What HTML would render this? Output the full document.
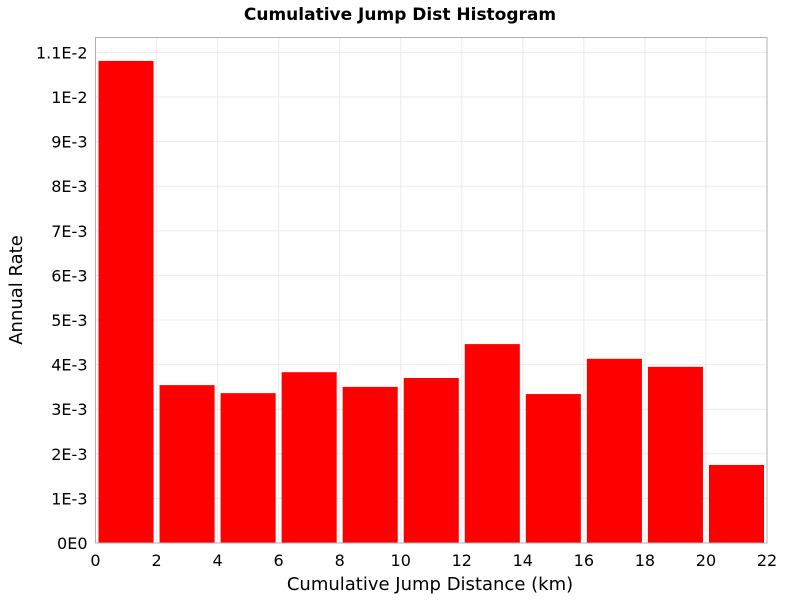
<!DOCTYPE html>
<html><head><meta charset="utf-8"><style>
body{margin:0;background:#fff;font-family:"DejaVu Sans","Liberation Sans",sans-serif;}
</style></head><body>
<svg id="chart" width="800" height="600" xmlns="http://www.w3.org/2000/svg">
<text x="400" y="20" text-anchor="middle" font-size="17" font-weight="bold" font-family="DejaVu Sans, sans-serif">Cumulative Jump Dist Histogram</text>
<g id="grid"></g><g id="bars"></g><g id="axes"></g>
<text x="430" y="590" text-anchor="middle" font-size="18" font-family="DejaVu Sans, sans-serif">Cumulative Jump Distance (km)</text>
<text transform="translate(22,290) rotate(-90)" text-anchor="middle" font-size="18" font-family="DejaVu Sans, sans-serif">Annual Rate</text>
</svg>
<script>
const binStarts=[0,2,4,6,8,10,12,14,16,18,20];
const rates=[0.01081,0.00354,0.00336,0.00383,0.00350,0.00370,0.00446,0.00334,0.00413,0.00395,0.00175];
const xTicks=[0,2,4,6,8,10,12,14,16,18,20,22];
const yTicks=[0,0.001,0.002,0.003,0.004,0.005,0.006,0.007,0.008,0.009,0.01,0.011];
const yTickLabels=["0E0","1E-3","2E-3","3E-3","4E-3","5E-3","6E-3","7E-3","8E-3","9E-3","1E-2","1.1E-2"];
const binWidth=2;
const L=95.5,R=767,T=37.5,B=543,xMax=22,yMax=0.011335;
const sx=v=>L+(v/xMax)*(R-L), sy=v=>B-(v/yMax)*(B-T);
const NS="http://www.w3.org/2000/svg";
function mk(t,a,p){const e=document.createElementNS(NS,t);for(const k in a)e.setAttribute(k,a[k]);p.appendChild(e);return e;}
const grid=document.getElementById('grid'),bars=document.getElementById('bars'),axes=document.getElementById('axes');
xTicks.forEach(v=>{
 const g=mk('line',{x1:sx(v),x2:sx(v),y1:T,y2:B,stroke:'#ebebeb'},grid);
 
 
 const t=mk('text',{x:sx(v),y:B+23,'text-anchor':'middle','font-size':16},axes);t.textContent=v;
 
 
});
yTicks.forEach((v,i)=>{
 const g=mk('line',{x1:L,x2:R,y1:sy(v),y2:sy(v),stroke:'#ebebeb'},grid);
 
 
 const t=mk('text',{x:L-8,y:sy(v)+6,'text-anchor':'end','font-size':16},axes);t.textContent=yTickLabels[i];
 
 
});
binStarts.forEach((s,i)=>{
 const x0=sx(s)+3,x1=sx(s+binWidth)-3;
 const r=mk('rect',{x:x0,y:sy(rates[i]),width:x1-x0,height:B-sy(rates[i]),fill:'#ff0000'},bars);
 
 
});
const f=mk('rect',{x:L,y:T,width:R-L,height:B-T,fill:'none',stroke:'#b0b0b0'},axes);


</script>
</body></html>
